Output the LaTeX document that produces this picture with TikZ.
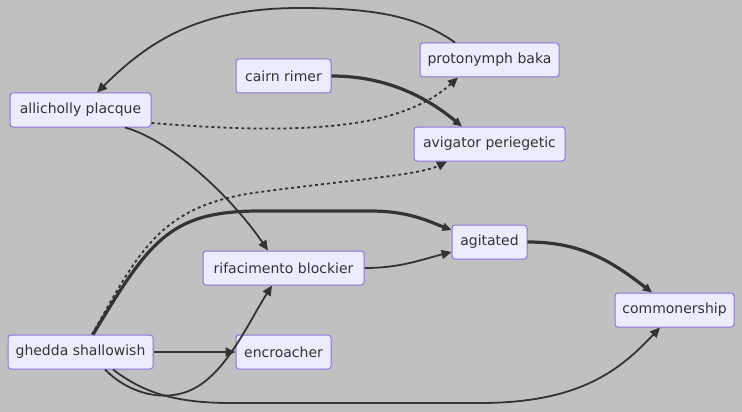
\documentclass[tikz,border=0pt]{standalone}
\usepackage{fontspec}
\setmainfont{DejaVu Sans}
\usetikzlibrary{arrows.meta, positioning}
\usepackage{xcolor}
\definecolor{canvasgray}{RGB}{192,192,192}
\definecolor{boxfill}{RGB}{236,236,255}
\definecolor{boxline}{RGB}{147,112,219}
\definecolor{inkgray}{RGB}{51,51,51}
\tikzstyle{termbox}  = [rectangle, rounded corners=3pt, minimum height=34pt, inner xsep=6pt,
                        text centered, draw=boxline, line width=1pt, fill=boxfill,
                        text=inkgray, font=\fontsize{14pt}{16pt}\selectfont]
\tikzstyle{arrow}    = [draw=inkgray, line width=1.8pt, -{Triangle[length=10pt,width=9pt]}]
\tikzstyle{heavyarrow} = [arrow, line width=3.2pt, -{Triangle[length=9pt,width=8pt]}]
\tikzstyle{dotarrow} = [arrow, dash pattern=on 3pt off 3pt]

\begin{document}
\begin{tikzpicture}[x=1pt, y=-1pt]
                \fill[canvasgray] (0,0) rectangle (742,412);
                \useasboundingbox (0,0) rectangle (742,412);
                % nodes
                \node (alli)  [termbox, minimum width=141pt] at (80.5,110) {allicholly placque};
                \node (cairn) [termbox, minimum width=95pt]  at (283.5,76) {cairn rimer};
                \node (prot)  [termbox, minimum width=139pt] at (489.5,60) {protonymph baka};
                \node (avig)  [termbox, minimum width=151pt] at (489.5,144) {avigator periegetic};
                \node (rif)   [termbox, minimum width=161pt] at (283.5,268) {rifacimento blockier};
                \node (agit)  [termbox, minimum width=75pt]  at (489.5,242) {agitated};
                \node (comm)  [termbox, minimum width=119pt] at (674.5,310) {commonership};
                \node (ghed)  [termbox, minimum width=145pt] at (80.5,352) {ghedda shallowish};
                \node (enc)   [termbox, minimum width=95pt]  at (283.5,352) {encroacher};
                % edges
                \draw[arrow] ([xshift=-34.5pt]prot.north) .. controls (420,18) and (380,8) .. (300,8)
                    .. controls (200,8) and (150,40) .. ([xshift=16.5pt]alli.north);
                \draw[heavyarrow] (cairn.east) .. controls (390,76) and (430,100) .. ([xshift=-27.5pt]avig.north);
                \draw[dotarrow] ([yshift=-13pt]alli.east) .. controls (300,135) and (400,130) .. ([xshift=-31.5pt]prot.south);
                \draw[arrow] ([xshift=44.5pt]alli.south) .. controls (170,140) and (230,195) .. ([xshift=-15.5pt]rif.north);
                \draw[dotarrow] ([xshift=11.5pt]ghed.north) .. controls (140,250) and (160,205) .. (260,192)
                    .. controls (350,180) and (420,175) .. ([xshift=-42.5pt]avig.south);
                \draw[heavyarrow] ([xshift=12.5pt]ghed.north) .. controls (150,240) and (170,211) .. (260,211)
                    -- (370,211) .. controls (410,211) and (430,222) .. ([yshift=12pt]agit.west);
                \draw[arrow] (rif.east) .. controls (400,268) and (420,260) .. ([yshift=-10pt]agit.west);
                \draw[heavyarrow] (agit.east) .. controls (580,242) and (610,260) .. ([xshift=-22.5pt]comm.north);
                \draw[arrow] (ghed.east) -- (enc.west);
                \draw[arrow] ([xshift=24.5pt]ghed.south) .. controls (130,395) and (170,405) .. (200,385)
                    .. controls (230,365) and (250,320) .. ([xshift=-11.5pt]rif.south);
                \draw[arrow] ([xshift=32.5pt]ghed.south) .. controls (140,390) and (170,403) .. (230,403)
                    -- (480,403) .. controls (580,403) and (620,370) .. ([xshift=-14.5pt]comm.south);
            \end{tikzpicture}
\end{document}
